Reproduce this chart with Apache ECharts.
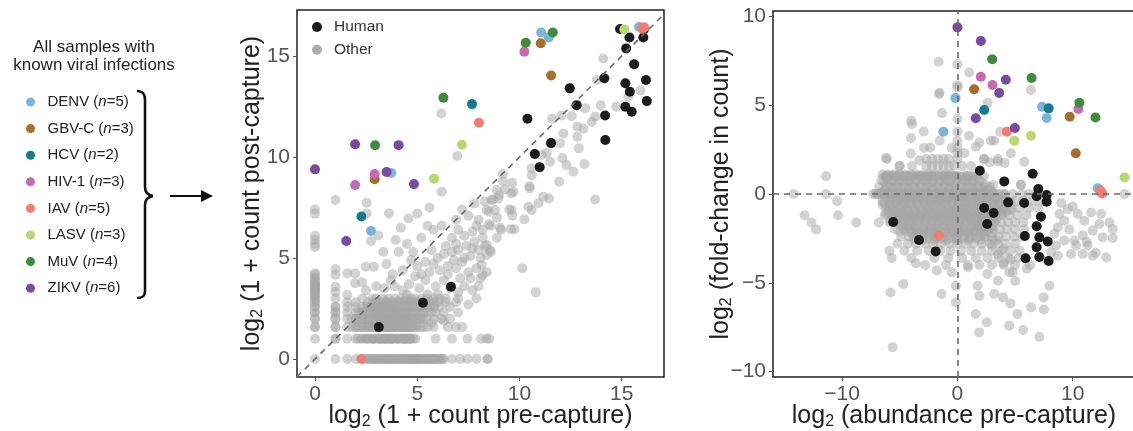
<!DOCTYPE html>
<html><head><meta charset="utf-8">
<script src="https://cdn.jsdelivr.net/npm/echarts@6/dist/echarts.min.js"></script>
<style>html,body{margin:0;padding:0;background:#fff}#c{width:1133px;height:431px}</style>
</head><body><div id="c"></div>
<script>
// ---------- categories ----------
const virusNames = ['DENV','GBV-C','HCV','HIV-1','IAV','LASV','MuV','ZIKV'];
const virusCounts = [5,3,2,3,5,3,4,6];
const virusColors = ['#7db4dc','#a86f2c','#127d8f','#c56bb3','#f27e70','#b8d86d','#3f8c3d','#784aa0'];
const groupNames = ['Human','Other'];
const ticksPre = [0,5,10,15];
const ticksAbX = [-10,0,10];
const ticksAbY = [-10,-5,0,5,10];

// ---------- panel 1: log2(1+pre) vs log2(1+post) ----------
const denvPre = [[2.74,6.34],[3.73,9.21],[11.06,16.17],[11.43,15.92],[15.85,16.44]];
const gbvcPre = [[2.92,8.9],[11.04,15.63],[11.55,14.04]];
const hcvPre = [[2.27,7.06],[7.68,12.62]];
const hivPre = [[1.96,8.61],[2.92,9.16],[10.24,15.21]];
const iavPre = [[2.27,0],[8.02,11.7],[16.0,16.35],[16.1,16.42],[16.03,16.4]];
const lasvPre = [[5.82,8.93],[7.19,10.61],[15.13,16.32]];
const muvPre = [[2.94,10.58],[6.28,12.94],[10.31,15.66],[11.63,16.17]];
const zikvPre = [[0,9.39],[1.96,10.63],[4.09,10.59],[3.5,9.26],[4.84,8.66],[1.53,5.84]];
const humanPre = [[3.12,1.58],[5.28,2.79],[6.65,3.58],[10.39,11.9],[10.75,10.15],[10.99,9.5],[11.55,10.69],[12.46,13.4],[12.8,12.57],[14.15,13.9],[14.19,12.06],[14.2,10.84],[14.92,16.34],[15.22,15.38],[15.38,15.92],[15.18,13.65],[15.4,13.23],[15.61,14.59],[15.18,12.49],[15.49,12.24],[16.06,15.92],[16.08,16.32],[16.19,13.81],[16.23,12.77]];

// discrete rows / columns of "Other" (post value fixed, pre values listed)
const otherPreRows = [
  [0,   [0,1,1.58,2,2.32,2.58,2.81,3,3.17,3.32,3.46,3.58,3.7,3.81,4,4.17,4.32,4.46,4.58,4.7,4.81,4.91,5.0,5.17,5.32,5.46,5.58,5.7,5.86,6.0,6.25,6.7,7.1,7.46,7.9,8.45]],
  [1,   [0,1,1.58,2,2.32,2.58,2.81,3,3.17,3.32,3.46,3.58,3.7,3.81,4,4.17,4.32,4.46,4.58,4.7,4.91,5.9,6.7,7.46,8.12,8.4]],
  [1.58,[0,1,1.58,2,2.32,2.58,2.81,3,3.17,3.32,3.46,3.58,3.7,3.81,4,4.17,4.32,4.46,4.58,4.7,4.81,5.0,5.3,5.8,6.5,6.9,7.2]],
  [2,   [0,1,1.58,2,2.32,2.58,2.81,3,3.17,3.32,3.46,3.58,3.7,3.81,4,4.17,4.32,4.46,4.58,4.81,5.0,5.2,5.46,5.83,6.17,6.6]],
  [2.32,[0,1,1.58,2,2.32,2.58,2.81,3,3.17,3.32,3.58,3.81,4,4.25,4.46,4.7,4.91,5.17,5.46,5.9,6.3]],
  [2.58,[0,1,1.58,2,2.58,2.81,3,3.32,3.58,3.81,4.17,4.46,4.7,5.0,5.3,5.64,6.1,6.6]],
  [2.81,[0,1.58,2,2.58,3.17,3.46,3.7,4.0,4.25,4.58,4.81,5.17,5.6,6.0,6.4,6.9]],
  [3,   [0,1,2.32,2.81,3.32,3.9,4.46,4.9,5.2,5.8,6.4,7.0,7.9]]
];
// repeated samples sharing the same counts in the crowded low-count block
const otherPreRowsRepeat = [
  [0,   [2.45,2.7,2.9,3.1,3.25,3.4,3.52,3.64,3.75,3.9,4.08,4.25,4.39,4.52,4.64,4.76,4.86,4.96,5.05,5.25,5.4,5.52,5.64,5.78,5.93,6.1,6.3]],
  [1,   [2.1,2.45,2.7,2.9,3.1,3.25,3.4,3.52,3.64,3.75,3.9,4.08,4.25,4.39,4.52,4.64,4.81]],
  [1.58,[1.8,2.15,2.45,2.7,2.9,3.1,3.25,3.4,3.52,3.64,3.75,3.9,4.08,4.25,4.39,4.52,4.64,4.9,5.15,5.5]],
  [2,   [1.8,2.15,2.45,2.7,2.9,3.1,3.25,3.4,3.52,3.64,3.75,3.9,4.08,4.25,4.39,4.52,4.7,4.9,5.1,5.3]],
  [2.32,[2.15,2.45,2.7,2.9,3.1,3.25,3.46,3.7,3.9,4.1,4.35,4.58,4.8,5.05,5.3,5.7]],
  [2.58,[2.3,2.7,2.9,3.17,3.46,3.7,3.95,4.3,4.58,4.85,5.15,5.45,5.85]],
  [2.81,[2.81,3.0,3.32,3.58,3.85,4.1,4.4,4.7,5.0,5.4,5.8]],
  [3,   [3.0,3.6,4.2,4.7,5.5,6.1]],
  [0,   [2.6,2.85,3.05,3.35,3.6,3.85,4.1,4.35,4.6,4.85,5.1,5.35,5.6,5.85,6.15]],
  [1,   [2.25,2.55,2.85,3.15,3.45,3.75,4.05,4.35,4.65]],
  [1.58,[2.0,2.3,2.6,2.9,3.2,3.5,3.8,4.1,4.4,4.7]],
  [2,   [2.0,2.3,2.6,2.9,3.2,3.5,3.8,4.1,4.4,4.7]],
  [2.32,[2.3,2.6,2.9,3.2,3.5,3.8,4.1,4.4]],
  [2.58,[2.5,2.8,3.1,3.4,3.7,4.0]]
];
const otherPreCols = [
  [0,   [3.17,3.32,3.46,3.58,3.7,3.81,4.0,4.17,4.25,5.55,5.7,5.9,6.1,7.2,7.4]],
  [1,   [3.32,3.58,4.17,4.46,7.87]],
  [1.58,[3.17,4.25]]
];
const otherPreColsRepeat = [
  [0,   [1.58,2,2.32,2.58,2.81,3,3.17,3.32,3.46,3.58,3.7,3.81,4.0]],
  [1,   [1,1.58,2,2.32,2.58]]
];
const otherPreScatter = [
  [3.4,3.5],[3.9,3.6],[4.3,3.4],[4.6,3.7],[4.9,4.1],[5.1,3.5],[5.4,3.9],[5.6,4.3],[5.9,3.6],[6.1,4.4],[6.3,3.9],[6.5,4.6],[6.0,5.0],[5.7,5.4],[5.4,4.8],[5.0,4.6],[4.7,4.9],[4.3,4.4],[3.8,4.2],
  [6.8,4.9],[7.0,5.4],[7.2,4.8],[7.4,5.6],[7.6,5.1],[7.8,5.8],[8.0,5.4],[8.2,6.0],[7.7,6.3],[7.3,6.1],[7.0,6.4],[6.7,6.0],[6.4,5.6],[6.9,6.9],[6.2,6.6],[5.8,6.4],
  [7.5,7.1],[8.0,6.9],[8.5,7.3],[8.7,7.9],[9.0,8.1],[9.3,8.4],[8.9,7.0],[8.6,6.6],[8.3,5.6],[8.1,5.0],[7.9,4.5],[7.5,4.3],[7.1,4.0],[6.6,3.5],[8.6,5.3],[8.9,6.0],[9.1,6.4],[9.5,7.4],[9.6,8.2],[9.2,8.8],[8.3,7.8],[7.2,7.4],[7.8,7.7],[6.7,5.3],[7.3,3.6],[7.7,3.4],[7.5,2.7],[7.0,2.3],[6.3,1.9],[5.7,1.8],[6.0,3.2],[8.1,4.0],[8.4,4.3],[8.0,3.6],[7.6,4.0],[7.0,3.3],
  [5.2,4.2],[5.8,4.7],[6.3,5.2],[6.9,5.7],[7.3,5.0],[6.5,4.2],[7.7,5.5],[8.2,6.4],[5.5,3.2],[4.5,3.2],[6.9,4.5],[7.9,6.6],
  [1.96,4.24],[1.96,3.75],[2.48,4.57],[2.88,4.57],[3.34,5.31],[2.74,5.84],[3.95,5.89],[3.1,6.12],[2.53,7.74],[2.53,7.21],[3.62,7.21],[4.57,6.96],[5.6,7.5],[6.2,8.28],[6.96,10.05],[6.18,12.16],[3.5,4.7],[4.1,5.3],[4.5,5.7],[5.2,6.0],[4.8,5.3],[3.0,3.6],[2.5,3.4],[2.3,3.8],[3.7,3.9],[4.2,6.5],[5.0,7.2],[5.5,6.6],
  [14.1,14.88],[13.78,13.81],[15.92,13.3],[15.33,12.99],[14.73,12.49],[13.98,12.57],[13.21,12.41],[13.7,12.0],[13.54,11.75],[12.56,12.03],[12.05,12.06],[11.6,11.9],[12.83,11.5],[13.13,11.4],[12.15,11.17],[12.83,11.0],[11.5,10.68],[11.99,10.68],[12.9,10.43],[11.09,10.1],[11.33,10.2],[11.5,9.77],[12.1,9.95],[12.3,9.6],[13.18,9.65],[12.64,9.27],[10.6,9.45],[10.6,9.1],[9.18,9.16],[9.65,8.73],[10.49,8.56],[11.94,8.78],
  [8.89,8.37],[9.7,8.28],[10.5,8.45],[8.64,7.87],[8.97,7.95],[10.44,7.54],[10.6,7.38],[10.93,7.71],[11.17,8.03],[11.45,7.95],[13.7,7.9],[8.4,7.38],[8.8,7.38],[9.62,7.38],[9.65,7.1],[10.24,6.92],[9.05,6.5],[9.57,6.43],[9.75,6.43],[8.51,6.67],[8.4,5.64],[8.56,5.4],[8.4,5.15],[8.15,4.65],[8.2,4.16],[10.14,4.5],[10.8,3.3],[8.52,1.0],[8.43,0]
];

// ---------- panel 2: log2 abundance vs log2 fold-change ----------
const denvAb = [[-0.17,5.4],[-1.22,3.51],[7.33,4.91],[7.74,4.28],[12.17,0.32]];
const gbvcAb = [[1.45,5.89],[9.74,4.35],[10.26,2.29]];
const hcvAb = [[2.32,4.73],[7.91,4.82]];
const hivAb = [[2.03,6.6],[3.04,6.13],[10.49,4.78]];
const iavAb = [[-1.6,-2.35],[4.29,3.51],[12.4,0.19],[12.55,0.03],[12.47,0.1]];
const lasvAb = [[4.93,3.0],[6.38,3.28],[14.49,0.93]];
const muvAb = [[3.01,7.58],[6.43,6.53],[10.58,5.14],[11.97,4.31]];
const zikvAb = [[0,9.38],[2.03,8.61],[4.2,6.43],[3.62,5.68],[1.59,4.26],[4.98,3.71]];
const humanAb = [[1.94,1.31],[4.06,0.71],[6.52,1.14],[7.01,0.28],[6.87,-0.13],[7.74,-0.06],[7.74,-0.43],[4.4,-0.47],[5.79,-0.51],[2.32,-0.79],[3.13,-1.07],[7.24,-1.28],[2.58,-1.69],[6.87,-1.82],[-5.57,-1.58],[-3.34,-2.59],[-1.89,-3.23],[5.85,-2.36],[7.1,-2.44],[7.83,-2.67],[6.87,-3.0],[5.91,-3.62],[7.1,-3.55],[7.91,-3.77]];

const otherAbRows = [
  [1.97, [-6.1,-2.7,-2.2,-1.7,-1.2,-0.75,0,2.3,3.5]],
  [1.57, [-5.0,-3.95,-2.7,-2.2,-1.7,-1.2,-0.75,0.4,1.2]],
  [1.0,  [-11.4,-6.3,-5.8,-5.3,-4.8,-4.3,-3.8,-3.3,-2.8,-2.3,-1.8,-1.3,-0.8,-0.3,0.2,0.7,1.2,1.7,2.3]],
  [0.5,  [-6.0,-5.3,-4.6,-3.9,-3.2,-2.5,-1.8,-1.1,-0.4,0.3,1.0,1.7,2.4,3.1,5.5]],
  [0,    [-14.2,-11.4,-7.1,-6.6,-6.1,-5.6,-5.1,-4.6,-4.1,-3.6,-3.1,-2.6,-2.1,-1.6,-1.1,-0.6,-0.1,0.4,0.9,1.4,1.9,2.4,2.9,3.4,4.0,4.8,5.6,6.2,14.49]],
  [-0.4, [-10.43,-6.5,-5.9,-5.3,-4.7,-4.1,-3.5,-2.9,-2.3,-1.7,-1.1,-0.5,0.1,0.7,1.3,1.9,2.5,3.1,3.7,4.3,5.0,5.7,6.5,7.3]],
  [-0.8, [-6.2,-5.6,-5.0,-4.4,-3.8,-3.2,-2.6,-2.0,-1.4,-0.8,-0.2,0.4,1.0,1.6,2.2,2.8,3.4,4.0,4.7,5.4,6.2,7.0]],
  [-1.2, [-13.25,-10.36,-6.3,-5.7,-5.1,-4.5,-3.9,-3.3,-2.7,-2.1,-1.5,-0.9,-0.3,0.3,0.9,1.5,2.1,2.7,3.3,3.9,4.5,5.2,6.0]],
  [-1.6, [-12.67,-8.78,-6.82,-5.9,-5.2,-4.6,-4.0,-3.4,-2.8,-2.2,-1.6,-1.0,-0.4,0.2,0.8,1.4,2.0,2.6,3.2,3.8,4.4,5.0,5.7]],
  [-2.0, [-12.26,-5.4,-4.7,-4.1,-3.5,-2.9,-2.3,-1.7,-1.1,-0.5,0.1,0.7,1.3,1.9,2.5,3.1,3.7,4.3,5.0,5.8]],
  [-2.4, [-4.9,-4.2,-3.6,-3.0,-2.4,-1.8,-1.2,-0.6,0.0,0.6,1.2,1.8,2.4,3.0,3.6,4.2,4.9,5.6]],
  [-2.8, [-5.2,-4.3,-3.6,-2.8,-2.1,-1.4,-0.7,0.0,0.7,1.4,2.1,2.8,3.5,4.2,5.0]],
  [-3.2, [-5.9,-4.6,-3.5,-2.5,-1.5,-0.6,0.3,1.2,2.1,3.0,3.8,4.6,5.4]],
  [-3.6, [-5.7,-4.0,-2.0,-0.8,0.4,1.6,2.6,3.6,4.4,5.3]],
  [-4.0, [-1.0,0.9,1.9,3.0,4.0,5.0,6.3]]
];
// crowded core of the low-abundance cloud
const otherAbRowsRepeat = [
  [1.0,  [-6.05,-5.55,-5.05,-4.55,-4.05,-3.55,-3.05,-2.55,-2.05,-1.55,-1.05,-0.55,-0.05,0.45,0.95,1.45]],
  [0.25, [-6.3,-5.6,-4.9,-4.2,-3.5,-2.8,-2.1,-1.4,-0.7,0,0.7,1.4,2.1,2.8]],
  [0,    [-6.85,-6.35,-5.85,-5.35,-4.85,-4.35,-3.85,-3.35,-2.85,-2.35,-1.85,-1.35,-0.85,-0.35,0.15,0.65,1.15,1.65,2.15]],
  [-0.2, [-6.2,-5.6,-5.0,-4.4,-3.8,-3.2,-2.6,-2.0,-1.4,-0.8,-0.2,0.4,1.0,1.6,2.2,2.8,3.4]],
  [-0.6, [-6.5,-5.9,-5.3,-4.7,-4.1,-3.5,-2.9,-2.3,-1.7,-1.1,-0.5,0.1,0.7,1.3,1.9,2.5,3.1,3.7]],
  [-1.0, [-6.0,-5.4,-4.8,-4.2,-3.6,-3.0,-2.4,-1.8,-1.2,-0.6,0.0,0.6,1.2,1.8,2.4,3.0,3.6,4.2]],
  [-1.4, [-5.6,-5.0,-4.4,-3.8,-3.2,-2.6,-2.0,-1.4,-0.8,-0.2,0.4,1.0,1.6,2.2,2.8,3.4]],
  [-1.8, [-4.8,-4.2,-3.6,-3.0,-2.4,-1.8,-1.2,-0.6,0.0,0.6,1.2,1.8,2.4,3.0]],
  [-2.2, [-4.0,-3.3,-2.6,-1.9,-1.2,-0.5,0.2,0.9,1.6,2.3,3.0]],
  [-2.6, [-3.0,-2.0,-1.0,0.0,1.0,2.0,3.0]],
  [1.0,  [-6.2,-5.2,-4.2,-3.2,-2.2,-1.2,-0.2,0.8]],
  [0.7,  [-6.4,-5.7,-5.0,-4.3,-3.6,-2.9,-2.2,-1.5,-0.8,-0.1,0.6,1.3,2.0]],
  [0.1,  [-6.6,-5.8,-5.0,-4.2,-3.4,-2.6,-1.8,-1.0,-0.2,0.6,1.4,2.2,3.0]],
  [-0.3, [-5.8,-5.1,-4.4,-3.7,-3.0,-2.3,-1.6,-0.9,-0.2,0.5,1.2,1.9,2.6,3.3,4.0]],
  [-0.9, [-5.9,-5.2,-4.5,-3.8,-3.1,-2.4,-1.7,-1.0,-0.3,0.4,1.1,1.8,2.5,3.2,3.9,4.6]],
  [-1.3, [-5.3,-4.6,-3.9,-3.2,-2.5,-1.8,-1.1,-0.4,0.3,1.0,1.7,2.4,3.1]],
  [-1.9, [-4.5,-3.7,-2.9,-2.1,-1.3,-0.5,0.3,1.1,1.9,2.7]],
  [1.1,  [-6.5,-6.0,-5.5,-5.0,-4.5,-4.0,-3.5,-3.0,-2.5,-2.0,-1.5,-1.0,-0.5]],
  [0.8,  [-6.6,-6.1,-5.6,-5.1,-4.6,-4.1,-3.6,-3.1,-2.6,-2.1,-1.6,-1.1,-0.6,-0.1,0.4,0.9,1.4,1.9]],
  [0.4,  [-6.8,-6.2,-5.7,-5.2,-4.7,-4.2,-3.7,-3.2,-2.7,-2.2,-1.7,-1.2,-0.7,-0.2,0.3,0.8,1.3,1.8,2.3,2.8]],
  [0,    [-7.3,-6.9,-6.4,-5.9,-5.4,-4.9,-4.4,-3.9,-3.4,-2.9,-2.4,-1.9,-1.4,-0.9,-0.4,0.1,0.6,1.1,1.6,2.1,2.6,3.1,3.6,4.1]],
  [-0.5, [-6.4,-5.9,-5.4,-4.9,-4.4,-3.9,-3.4,-2.9,-2.4,-1.9,-1.4,-0.9,-0.4,0.1,0.6,1.1,1.6,2.1,2.6,3.1,3.6,4.1,4.6]],
  [-1.1, [-6.2,-5.7,-5.2,-4.7,-4.2,-3.7,-3.2,-2.7,-2.2,-1.7,-1.2,-0.7,-0.2,0.3,0.8,1.3,1.8,2.3,2.8,3.3,3.8]],
  [-1.5, [-5.8,-5.3,-4.8,-4.3,-3.8,-3.3,-2.8,-2.3,-1.8,-1.3,-0.8,-0.3,0.2,0.7,1.2,1.7,2.2,2.7,3.2]],
  [-2.1, [-5.0,-4.5,-4.0,-3.5,-3.0,-2.5,-2.0,-1.5,-1.0,-0.5,0.0,0.5,1.0,1.5,2.0,2.5]],
  [-2.5, [-3.8,-3.2,-2.6,-2.0,-1.4,-0.8,-0.2,0.4,1.0,1.6]]
];
const otherAbScatter = [
  [0.6,-0.8],[1.2,-1.3],[1.8,-1.8],[2.4,-2.3],[3.0,-2.9],[3.5,-3.4],[4.0,-3.9],[4.5,-4.4],[5.0,-4.9],[1.6,-0.9],[2.2,-1.5],[2.8,-2.0],[3.4,-2.6],[4.0,-3.1],[4.6,-3.7],
  [8.84,-1.13],[9.56,-0.85],[10.43,-1.13],[11.59,-1.04],[12.46,-1.13],[13.18,-1.6],[13.47,-1.97],[13.47,-2.48],[12.6,-2.44],[11.74,-2.06],[10.87,-2.34],[10.14,-2.62],[9.27,-2.62],[8.7,-1.87],[8.55,-2.9],[9.85,-3.38],[10.87,-3.38],[11.74,-3.47],[12.9,-3.57],[10.29,-2.9],[11.3,-2.9],[12.3,-1.69],[11.0,-1.5],[9.27,-1.5],[8.4,-2.24],[8.11,-3.28],[8.7,-3.47],[9.0,-0.5],[10.0,-0.7],[11.2,-2.7],[12.0,-3.3],[9.7,-2.0],
  [-5.8,-5.54],[-4.7,-5.07],[-5.63,-8.63],[-1.39,-5.63],[-0.5,-4.41],[-0.14,-5.16],[-0.14,-6.1],[0.93,-4.13],[1.91,-5.72],[1.59,-6.75],[1.88,-7.79],[3.19,-5.63],[2.55,-7.22],[3.52,-4.88],[3.96,-5.82],[4.6,-6.16],[4.49,-7.41],[5.2,-6.75],[5.7,-7.65],[6.38,-6.38],[7.1,-8.03],[7.48,-5.82],[7.5,-6.5],[7.97,-5.16],[1.74,-5.16],[2.6,-4.5],[4.8,-4.4],[6.0,-4.2],[-2.8,-4.0],[-3.6,-3.9],[-1.8,-4.3],
  [-6.21,2.03],[-4.0,4.12],[-3.95,3.94],[-2.93,3.52],[-4.03,3.15],[-4.05,2.28],[-2.35,2.62],[-1.63,7.44],[-1.6,5.63],[-1.55,5.7],[-1.34,4.56],[-1.54,3.0],[0,7.3],[0,6.0],[0,6.12],[0,4.22],[0,3.5],[0,3.0],[0,2.6],[0,2.3],[1.01,6.84],[2.61,5.12],[6.38,5.85],[3.71,3.5],[1.59,2.66],[1.0,3.28],[2.9,3.0],[3.18,3.0],[4.64,2.29],[5.8,1.82],[2.3,1.97],[2.8,1.78],[3.5,1.83],[4.1,1.74],[5.5,0.52],[-5.04,1.57],[-2.9,2.6],[-3.3,1.9],[-0.5,2.6],[0.6,2.3],[1.9,2.9],[-0.3,1.6]
];

// ---------- build ----------
function fromRows(rows){ const out=[]; rows.forEach(r=>r[1].forEach(x=>out.push([x,r[0]]))); return out; }
function fromCols(cols){ const out=[]; cols.forEach(c=>c[1].forEach(y=>out.push([c[0],y]))); return out; }
const otherPre = fromRows(otherPreRows).concat(fromRows(otherPreRowsRepeat), fromCols(otherPreCols), fromCols(otherPreColsRepeat), otherPreScatter);
const otherAb = fromRows(otherAbRows).concat(fromRows(otherAbRowsRepeat), otherAbScatter);
const virusPre = [denvPre,gbvcPre,hcvPre,hivPre,iavPre,lasvPre,muvPre,zikvPre];
const virusAb = [denvAb,gbvcAb,hcvAb,hivAb,iavAb,lasvAb,muvAb,zikvAb];

const FONT = 'Liberation Sans';
const GRAY = '#a6a6a6';
const minus = v => String(v).replace('-', '\u2212');
const subRich = { s: { fontSize: 16, fontFamily: FONT, color: '#222', padding: [12,0,0,0] } };

function axisCommon(gi, min, max, ticks, name, gap, fmt) {
  return {
    gridIndex: gi, type: 'value', min: min, max: max,
    axisLine: { show: false, onZero: false }, splitLine: { show: false },
    axisTick: { show: true, inside: false, length: 4, customValues: ticks, lineStyle: { color: '#555', width: 1 } },
    axisLabel: { customValues: ticks, fontSize: 21, color: '#555', fontFamily: FONT, margin: 7, formatter: fmt || (v => String(v)) },
    name: name, nameLocation: 'middle', nameGap: gap, nameMoveOverlap: false,
    nameTextStyle: { fontSize: 25, color: '#222', fontFamily: FONT, rich: subRich }
  };
}

const sym = 10;
const series = [];
const dashStyle = { type: [6,5], color: '#6a6a6a', width: 1.6 };
series.push({ name: 'Other', type: 'scatter', xAxisIndex: 0, yAxisIndex: 0, data: otherPre, symbolSize: sym,
  itemStyle: { color: GRAY, opacity: 0.5 }, silent: true,
  markLine: { silent: true, symbol: 'none', label: { show: false }, lineStyle: dashStyle,
    data: [[{ coord: [-0.88,-0.88] }, { coord: [17.07,17.07] }]] } });
series.push({ name: 'Other', type: 'scatter', xAxisIndex: 1, yAxisIndex: 1, data: otherAb, symbolSize: sym,
  itemStyle: { color: GRAY, opacity: 0.5 }, silent: true,
  markLine: { silent: true, symbol: 'none', label: { show: false }, lineStyle: dashStyle,
    data: [{ xAxis: 0 }, { yAxis: 0 }] } });
series.push({ name: 'Human', type: 'scatter', xAxisIndex: 0, yAxisIndex: 0, data: humanPre, symbolSize: sym, itemStyle: { color: '#1b1b1b', opacity: 1 } });
series.push({ name: 'Human', type: 'scatter', xAxisIndex: 1, yAxisIndex: 1, data: humanAb, symbolSize: sym, itemStyle: { color: '#1b1b1b', opacity: 1 } });
virusNames.forEach((n, i) => {
  series.push({ name: n, type: 'scatter', xAxisIndex: 0, yAxisIndex: 0, data: virusPre[i], symbolSize: sym, itemStyle: { color: virusColors[i], opacity: 1 } });
  series.push({ name: n, type: 'scatter', xAxisIndex: 1, yAxisIndex: 1, data: virusAb[i], symbolSize: sym, itemStyle: { color: virusColors[i], opacity: 1 } });
});

const braceStyle = { fill: 'none', stroke: '#111', lineWidth: 2.6 };
const chart = echarts.init(document.getElementById('c'), null, { renderer: 'canvas' });
chart.setOption({
  animation: false,
  backgroundColor: '#fff',
  color: virusColors,
  textStyle: { fontFamily: FONT },
  grid: [
    { left: 297, top: 10, width: 367, height: 367, show: true, borderColor: '#1f1f1f', borderWidth: 1.5, backgroundColor: 'transparent', outerBoundsMode: 'none', containLabel: false },
    { left: 773, top: 11, width: 362, height: 366, show: true, borderColor: '#1f1f1f', borderWidth: 1.5, backgroundColor: 'transparent', outerBoundsMode: 'none', containLabel: false }
  ],
  xAxis: [
    axisCommon(0, -0.88, 17.07, ticksPre, 'log{s|2} (1 + count pre-capture)', 25),
    axisCommon(1, -16, 15.4, ticksAbX, 'log{s|2} (abundance pre-capture)', 25, minus)
  ],
  yAxis: [
    axisCommon(0, -0.89, 17.28, ticksPre, 'log{s|2} (1 + count post-capture)', 31),
    axisCommon(1, -10.3, 10.3, ticksAbY, 'log{s|2} (fold-change in count)', 38, minus)
  ],
  legend: [
    { data: virusNames, orient: 'vertical', left: 21, top: 89, icon: 'circle', itemWidth: 24, itemHeight: 9, itemGap: 10.6,
      selectedMode: false,
      textStyle: { fontSize: 15, color: '#222', fontFamily: FONT, lineHeight: 16,
        rich: { i: { fontStyle: 'italic', fontSize: 15, color: '#222', fontFamily: FONT, lineHeight: 16 } } },
      formatter: name => name + ' ({i|n}=' + virusCounts[virusNames.indexOf(name)] + ')' },
    { data: [{ name: 'Human' }, { name: 'Other', itemStyle: { color: '#acacac', opacity: 1 } }],
      orient: 'vertical', left: 307, top: 14, icon: 'circle', itemWidth: 24, itemHeight: 10, itemGap: 6.7,
      selectedMode: false, textStyle: { fontSize: 15.5, color: '#333', fontFamily: FONT, lineHeight: 16 } }
  ],
  graphic: [
    { type: 'text', x: 94, y: 38, style: { text: 'All samples with\nknown viral infections', fontSize: 17, fontFamily: FONT, fill: '#222', align: 'center', lineHeight: 18.5 } },
    { type: 'bezierCurve', shape: { x1: 137, y1: 91, cpx1: 143, cpy1: 91, cpx2: 145, cpy2: 94, x2: 145, y2: 100 }, style: braceStyle },
    { type: 'line', shape: { x1: 145, y1: 100, x2: 145, y2: 187 }, style: braceStyle },
    { type: 'bezierCurve', shape: { x1: 145, y1: 187, cpx1: 145, cpy1: 192, cpx2: 147, cpy2: 195, x2: 153, y2: 196 }, style: braceStyle },
    { type: 'bezierCurve', shape: { x1: 153, y1: 196, cpx1: 147, cpy1: 197, cpx2: 145, cpy2: 200, x2: 145, y2: 205 }, style: braceStyle },
    { type: 'line', shape: { x1: 145, y1: 205, x2: 145, y2: 291 }, style: braceStyle },
    { type: 'bezierCurve', shape: { x1: 145, y1: 291, cpx1: 145, cpy1: 296, cpx2: 143, cpy2: 298, x2: 137, y2: 298 }, style: braceStyle },
    { type: 'line', shape: { x1: 170, y1: 196, x2: 204, y2: 196 }, style: { stroke: '#111', lineWidth: 2 } },
    { type: 'polygon', shape: { points: [[201,190],[213,196],[201,202]] }, style: { fill: '#111' } }
  ],
  series: series
});
</script></body></html>
